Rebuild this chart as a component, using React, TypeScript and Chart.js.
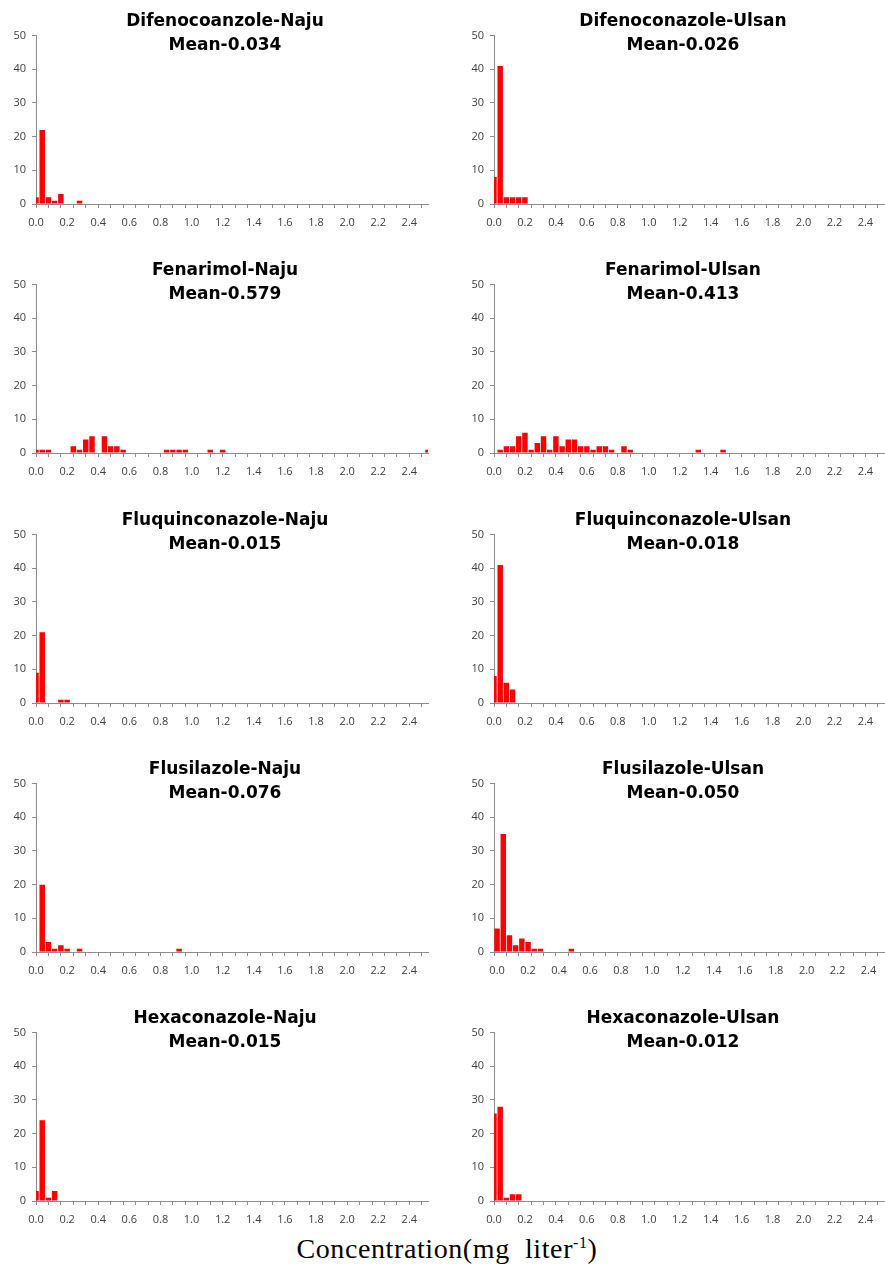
import React, { useEffect, useRef } from 'react';
import { Chart, registerables } from 'chart.js';

Chart.register(...registerables);

// Histogram bin centres (mg/L), bin width 0.04
const BIN_CENTERS = [
  0.0, 0.04, 0.08, 0.12, 0.16, 0.2, 0.24, 0.28, 0.32, 0.36, 0.4, 0.44, 0.48, 0.52, 0.56, 0.6,
  0.64, 0.68, 0.72, 0.76, 0.8, 0.84, 0.88, 0.92, 0.96, 1.0, 1.04, 1.08, 1.12, 1.16, 1.2, 1.24,
  1.28, 1.32, 1.36, 1.4, 1.44, 1.48, 1.52, 1.56, 1.6, 1.64, 1.68, 1.72, 1.76, 1.8, 1.84, 1.88,
  1.92, 1.96, 2.0, 2.04, 2.08, 2.12, 2.16, 2.2, 2.24, 2.28, 2.32, 2.36, 2.4, 2.44, 2.48, 2.52,
];
const BIN_WIDTH = 0.04;
const X_TICK_LABELS = ['0.0', '0.2', '0.4', '0.6', '0.8', '1.0', '1.2', '1.4', '1.6', '1.8', '2.0', '2.2', '2.4'];
const Y_TICK_STEP = 10;
const Y_MAX = 50;

const TITLES = [
  'Difenocoanzole-Naju', 'Difenoconazole-Ulsan',
  'Fenarimol-Naju', 'Fenarimol-Ulsan',
  'Fluquinconazole-Naju', 'Fluquinconazole-Ulsan',
  'Flusilazole-Naju', 'Flusilazole-Ulsan',
  'Hexaconazole-Naju', 'Hexaconazole-Ulsan',
];
const MEANS = ['0.034', '0.026', '0.579', '0.413', '0.015', '0.018', '0.076', '0.050', '0.015', '0.012'];

// counts per bin (index = bin), trailing empty bins omitted
const difenoconazoleNaju = [2, 22, 2, 1, 3, 0, 0, 1];
const difenoconazoleUlsan = [8, 41, 2, 2, 2, 2];
const fenarimolNaju = [
  1, 1, 1, 0, 0, 0, 2, 1, 4, 5, 0, 5, 2, 2, 1, 0,
  0, 0, 0, 0, 0, 1, 1, 1, 1, 0, 0, 0, 1, 0, 1, 0,
  0, 0, 0, 0, 0, 0, 0, 0, 0, 0, 0, 0, 0, 0, 0, 0,
  0, 0, 0, 0, 0, 0, 0, 0, 0, 0, 0, 0, 0, 0, 0, 1,
];
const fenarimolUlsan = [
  0, 1, 2, 2, 5, 6, 1, 3, 5, 1, 5, 2, 4, 4, 2, 2,
  1, 2, 2, 1, 0, 2, 1, 0, 0, 0, 0, 0, 0, 0, 0, 0,
  0, 1, 0, 0, 0, 1,
];
const fluquinconazoleNaju = [9, 21, 0, 0, 1, 1];
const fluquinconazoleUlsan = [8, 41, 6, 4];
const flusilazoleNaju = [0, 20, 3, 1, 2, 1, 0, 1, 0, 0, 0, 0, 0, 0, 0, 0, 0, 0, 0, 0, 0, 0, 0, 1];
const flusilazoleUlsan = [7, 35, 5, 2, 4, 3, 1, 1, 0, 0, 0, 0, 1];
const hexaconazoleNaju = [3, 24, 1, 3];
const hexaconazoleUlsan = [26, 28, 1, 2, 2];

const COUNTS = [
  difenoconazoleNaju, difenoconazoleUlsan,
  fenarimolNaju, fenarimolUlsan,
  fluquinconazoleNaju, fluquinconazoleUlsan,
  flusilazoleNaju, flusilazoleUlsan,
  hexaconazoleNaju, hexaconazoleUlsan,
];
// number of bins on each axis; 'between' = categories sit between tick marks
const BIN_COUNTS = [64, 64, 64, 64, 64, 64, 64, 63, 64, 64];
const BETWEEN = [false, false, false, false, false, false, false, true, false, false];

const AXIS_COLOR = '#8c8c8c';
const TICK_COLOR = '#404040';
const TICK_FONT = { family: '"Open Sans", sans-serif', size: 11 };
const BAR_COLOR = '#ff0000';

const ROW_PITCH = 249.35;
const AREA_TOP0 = 33;
const AREA_H = 171;
const X_MARK_H = 5;
const X_LABEL_H = 26;

function Panel({ idx }: { idx: number }) {
  const ref = useRef<HTMLCanvasElement>(null);
  const col = idx % 2;
  const row = Math.floor(idx / 2);
  const areaTop = Math.round(AREA_TOP0 + row * ROW_PITCH);
  const canvasLeft = col === 0 ? 0 : 458;
  const canvasWidth = col === 0 ? 440 : 427;
  const padRight = col === 0 ? 12 : 1;
  const canvasTop = areaTop - 10;
  const canvasHeight = 10 + AREA_H + X_MARK_H + X_LABEL_H;

  useEffect(() => {
    const n = BIN_COUNTS[idx];
    const between = BETWEEN[idx];
    const bins = BIN_CENTERS.slice(0, n);
    const counts = COUNTS[idx];
    const min = between ? bins[0] - BIN_WIDTH / 2 : bins[0];
    const max = between ? bins[n - 1] + BIN_WIDTH / 2 : bins[n - 1];
    const marks = bins
      .filter((_, i) => i % 2 === 0)
      .map((c) => (between ? c - BIN_WIDTH / 2 : c));

    const chart = new Chart(ref.current as HTMLCanvasElement, {
      type: 'bar',
      data: {
        datasets: [
          {
            data: bins.map((c, i) => ({ x: c, y: counts[i] ?? 0 })),
            backgroundColor: BAR_COLOR,
            borderWidth: 0,
            categoryPercentage: 1,
            barPercentage: 0.88,
            clip: 0,
            xAxisID: 'x',
            yAxisID: 'y',
          } as any,
        ],
      },
      options: {
        responsive: false,
        animation: false,
        devicePixelRatio: 1,
        layout: { padding: { top: 10, right: padRight, bottom: 0, left: 0 } },
        plugins: {
          legend: { display: false },
          tooltip: { enabled: false },
          title: { display: false },
        },
        scales: {
          x: {
            type: 'linear',
            position: 'bottom',
            min,
            max,
            offset: false,
            weight: 0,
            grid: {
              display: true,
              drawOnChartArea: false,
              drawTicks: true,
              tickLength: 4,
              tickColor: AXIS_COLOR,
              offset: false,
            },
            border: { display: true, color: AXIS_COLOR, width: 1 },
            ticks: { display: false },
            afterBuildTicks: (s: any) => {
              s.ticks = marks.map((v) => ({ value: v }));
            },
            afterFit: (s: any) => {
              s.height = X_MARK_H;
            },
          },
          x2: {
            type: 'linear',
            position: 'bottom',
            min,
            max,
            offset: false,
            weight: 1,
            grid: { display: false, drawTicks: false, tickLength: 0 },
            border: { display: false },
            ticks: {
              padding: 7,
              font: TICK_FONT,
              color: TICK_COLOR,
              maxRotation: 0,
              autoSkip: false,
              callback: (_v: any, i: number) => X_TICK_LABELS[i],
            },
            afterBuildTicks: (s: any) => {
              s.ticks = X_TICK_LABELS.map((t) => ({ value: parseFloat(t) }));
            },
            afterFit: (s: any) => {
              s.height = X_LABEL_H;
            },
          },
          y: {
            type: 'linear',
            min: 0,
            max: Y_MAX,
            ticks: { stepSize: Y_TICK_STEP, padding: 6, font: TICK_FONT, color: TICK_COLOR },
            grid: { drawOnChartArea: false, drawTicks: true, tickLength: 4, tickColor: AXIS_COLOR },
            border: { display: true, color: AXIS_COLOR, width: 1 },
            afterFit: (s: any) => {
              s.width = 36;
            },
          },
        } as any,
      },
    });
    return () => chart.destroy();
  }, [idx]);

  const titleCenter = col === 0 ? 225 : 683;
  const titleTop = Math.round(8 + row * ROW_PITCH);

  return (
    <>
      <canvas
        ref={ref}
        width={canvasWidth}
        height={canvasHeight}
        style={{
          position: 'absolute',
          left: canvasLeft,
          top: canvasTop,
          width: canvasWidth,
          height: canvasHeight,
        }}
      />
      <div
        style={{
          position: 'absolute',
          left: titleCenter - 160,
          width: 320,
          top: titleTop,
          textAlign: 'center',
          fontFamily: '"DejaVu Sans", sans-serif',
          fontWeight: 'bold',
          fontSize: 17,
          lineHeight: '24px',
          color: '#000',
          pointerEvents: 'none',
        }}
      >
        <div>{TITLES[idx]}</div>
        <div>Mean-{MEANS[idx]}</div>
      </div>
    </>
  );
}

export default function App() {
  return (
    <div
      style={{
        position: 'absolute',
        left: 0,
        top: 0,
        width: 885,
        height: 1277,
        background: '#fff',
        overflow: 'hidden',
      }}
    >
      {TITLES.map((_, i) => (
        <Panel key={i} idx={i} />
      ))}
      <div
        style={{
          position: 'absolute',
          left: 147,
          width: 600,
          top: 1233,
          textAlign: 'center',
          fontFamily: '"Liberation Serif", "Times New Roman", serif',
          fontSize: 28,
          letterSpacing: '0.6px',
          lineHeight: '32px',
          color: '#000',
          whiteSpace: 'pre',
        }}
      >
        {'Concentration(mg  liter'}
        <sup style={{ fontSize: 16, verticalAlign: '0.6em', lineHeight: 0 }}>-1</sup>
        {')'}
      </div>
    </div>
  );
}
